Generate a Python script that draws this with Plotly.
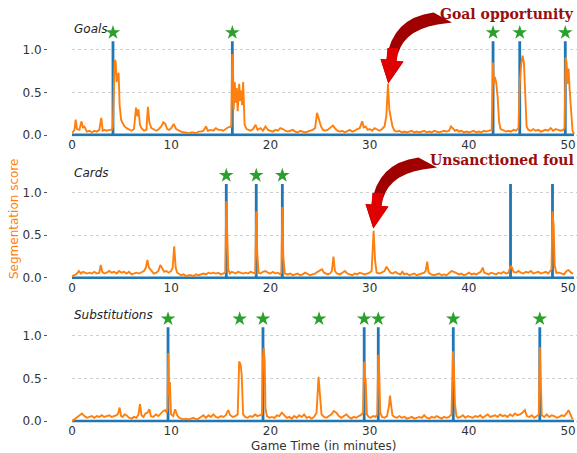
import plotly.graph_objects as go

# ---------------- data ----------------
PANELS = ["Goals", "Cards", "Substitutions"]

GOALS_EVENTS = [4.13, 16.16, 42.44, 45.13, 49.72]
GOALS_STARS = [4.13, 16.16, 42.44, 45.13, 49.72]
CARDS_EVENTS = [15.55, 18.57, 21.2, 44.2, 48.43]
CARDS_STARS = [15.55, 18.57, 21.2]
SUBS_EVENTS = [9.68, 19.25, 29.45, 30.87, 38.43, 47.15]
SUBS_STARS = [9.68, 16.9, 19.25, 24.9, 29.45, 30.87, 38.43, 47.15]

GOALS_SCORE = [
    (0, 0.02), (0.25, 0.06), (0.37, 0.18), (0.5, 0.07), (0.75, 0.06), (0.95, 0.16), (1.1, 0.09), (1.25, 0.10),
    (1.5, 0.04), (1.75, 0.05), (2.0, 0.03), (2.25, 0.05), (2.5, 0.04), (2.75, 0.06), (2.95, 0.20), (3.1, 0.05),
    (3.25, 0.06), (3.5, 0.05), (3.75, 0.06), (4.0, 0.06), (4.12, 0.10), (4.2, 0.55), (4.3, 0.88), (4.4, 0.86),
    (4.5, 0.62), (4.6, 0.70), (4.7, 0.73), (4.8, 0.35), (4.95, 0.18), (5.1, 0.14), (5.3, 0.10), (5.5, 0.08),
    (5.75, 0.06), (6.0, 0.05), (6.25, 0.07), (6.45, 0.32), (6.6, 0.22), (6.7, 0.30), (6.85, 0.12), (7.0, 0.08),
    (7.25, 0.05), (7.5, 0.06), (7.65, 0.33), (7.8, 0.15), (8.0, 0.08), (8.25, 0.06), (8.5, 0.05), (8.75, 0.07),
    (9.0, 0.10), (9.2, 0.15), (9.4, 0.13), (9.6, 0.07), (9.8, 0.06), (10.0, 0.08), (10.25, 0.13), (10.5, 0.07),
    (10.75, 0.05), (11.0, 0.04), (11.25, 0.03), (11.5, 0.03), (11.75, 0.02), (12.0, 0.03), (12.25, 0.03),
    (12.5, 0.02), (12.75, 0.04), (13.0, 0.04), (13.25, 0.05), (13.5, 0.10), (13.7, 0.05), (14.0, 0.06),
    (14.25, 0.05), (14.5, 0.08), (14.75, 0.06), (15.0, 0.06), (15.25, 0.05), (15.5, 0.07), (15.75, 0.09),
    (16.05, 0.10), (16.15, 0.95), (16.22, 0.82), (16.3, 0.30), (16.4, 0.62), (16.5, 0.38), (16.6, 0.55),
    (16.7, 0.28), (16.85, 0.60), (16.95, 0.40), (17.05, 0.52), (17.15, 0.35), (17.25, 0.62), (17.4, 0.12),
    (17.6, 0.07), (17.8, 0.06), (18.0, 0.05), (18.25, 0.07), (18.5, 0.12), (18.7, 0.06), (19.0, 0.08),
    (19.25, 0.05), (19.5, 0.10), (19.75, 0.06), (20.0, 0.05), (20.25, 0.04), (20.5, 0.06), (20.75, 0.05),
    (21.0, 0.08), (21.25, 0.07), (21.5, 0.05), (21.75, 0.04), (22.0, 0.05), (22.25, 0.06), (22.5, 0.04),
    (22.75, 0.03), (23.0, 0.05), (23.25, 0.04), (23.5, 0.03), (23.75, 0.04), (24.0, 0.05), (24.25, 0.06),
    (24.5, 0.08), (24.7, 0.26), (24.9, 0.18), (25.1, 0.10), (25.3, 0.06), (25.5, 0.05), (25.75, 0.06),
    (26.0, 0.08), (26.3, 0.11), (26.5, 0.08), (26.75, 0.05), (27.0, 0.04), (27.25, 0.05), (27.5, 0.03),
    (27.75, 0.05), (28.0, 0.06), (28.25, 0.04), (28.5, 0.05), (28.75, 0.07), (29.0, 0.08), (29.25, 0.16),
    (29.4, 0.09), (29.6, 0.10), (29.8, 0.06), (30.0, 0.07), (30.25, 0.05), (30.5, 0.08), (30.75, 0.06),
    (31.0, 0.05), (31.25, 0.07), (31.5, 0.10), (31.68, 0.22), (31.85, 0.60), (31.98, 0.30), (32.1, 0.22),
    (32.3, 0.10), (32.5, 0.05), (32.75, 0.04), (33.0, 0.05), (33.25, 0.03), (33.5, 0.04), (33.75, 0.03),
    (34.0, 0.04), (34.25, 0.05), (34.5, 0.03), (34.75, 0.04), (35.0, 0.03), (35.25, 0.04), (35.5, 0.05),
    (35.75, 0.03), (36.0, 0.04), (36.25, 0.03), (36.5, 0.05), (36.75, 0.04), (37.0, 0.03), (37.25, 0.04),
    (37.5, 0.05), (37.75, 0.04), (38.0, 0.05), (38.2, 0.10), (38.4, 0.08), (38.6, 0.05), (38.8, 0.06),
    (39.0, 0.04), (39.25, 0.05), (39.5, 0.03), (39.75, 0.04), (40.0, 0.03), (40.25, 0.04), (40.5, 0.05),
    (40.75, 0.03), (41.0, 0.04), (41.25, 0.03), (41.5, 0.05), (41.75, 0.04), (42.0, 0.05), (42.3, 0.06),
    (42.44, 0.85), (42.52, 0.60), (42.62, 0.68), (42.75, 0.62), (42.9, 0.45), (43.05, 0.15), (43.2, 0.07),
    (43.5, 0.05), (43.75, 0.04), (44.0, 0.05), (44.25, 0.04), (44.5, 0.06), (44.75, 0.05), (45.0, 0.08),
    (45.13, 0.62), (45.3, 0.85), (45.42, 0.93), (45.55, 0.85), (45.68, 0.35), (45.82, 0.10), (46.0, 0.06),
    (46.25, 0.05), (46.5, 0.07), (46.75, 0.05), (47.0, 0.06), (47.25, 0.04), (47.5, 0.05), (47.75, 0.06),
    (48.0, 0.05), (48.25, 0.08), (48.5, 0.05), (48.75, 0.07), (49.0, 0.06), (49.25, 0.05), (49.5, 0.06),
    (49.65, 0.08), (49.75, 0.91), (49.85, 0.85), (49.95, 0.60), (50.05, 0.78), (50.15, 0.55), (50.3, 0.30),
    (50.45, 0.05), (50.6, 0.01),
]

CARDS_SCORE = [
    (0, 0.02), (0.25, 0.03), (0.5, 0.05), (0.7, 0.08), (0.9, 0.05), (1.1, 0.07), (1.3, 0.06), (1.5, 0.05),
    (1.75, 0.06), (2.0, 0.05), (2.25, 0.07), (2.5, 0.05), (2.75, 0.06), (2.9, 0.15), (3.05, 0.07), (3.25, 0.05),
    (3.5, 0.06), (3.75, 0.08), (4.0, 0.06), (4.25, 0.07), (4.5, 0.05), (4.75, 0.08), (5.0, 0.06), (5.25, 0.07),
    (5.5, 0.05), (5.75, 0.07), (6.0, 0.04), (6.25, 0.05), (6.5, 0.06), (6.75, 0.05), (7.0, 0.07), (7.25, 0.08),
    (7.45, 0.12), (7.6, 0.21), (7.75, 0.12), (8.0, 0.08), (8.25, 0.05), (8.5, 0.06), (8.7, 0.08), (8.9, 0.15),
    (9.1, 0.10), (9.3, 0.07), (9.5, 0.08), (9.75, 0.06), (10.0, 0.08), (10.15, 0.12), (10.3, 0.37),
    (10.45, 0.12), (10.6, 0.06), (10.8, 0.04), (11.0, 0.03), (11.25, 0.04), (11.5, 0.02), (11.75, 0.03),
    (12.0, 0.03), (12.25, 0.02), (12.5, 0.04), (12.75, 0.03), (13.0, 0.04), (13.25, 0.05), (13.5, 0.04),
    (13.75, 0.06), (14.0, 0.05), (14.25, 0.06), (14.5, 0.05), (14.75, 0.06), (15.0, 0.04), (15.25, 0.05),
    (15.45, 0.06), (15.55, 0.90), (15.65, 0.55), (15.75, 0.10), (15.9, 0.05), (16.1, 0.07), (16.3, 0.06),
    (16.5, 0.05), (16.75, 0.07), (17.0, 0.06), (17.25, 0.05), (17.5, 0.06), (17.75, 0.05), (18.0, 0.07),
    (18.25, 0.06), (18.47, 0.05), (18.57, 0.78), (18.67, 0.30), (18.8, 0.06), (19.0, 0.05), (19.25, 0.07),
    (19.5, 0.08), (19.75, 0.06), (20.0, 0.05), (20.25, 0.07), (20.5, 0.05), (20.75, 0.06), (21.0, 0.04),
    (21.1, 0.06), (21.2, 0.83), (21.3, 0.25), (21.45, 0.05), (21.75, 0.04), (22.0, 0.05), (22.25, 0.03),
    (22.5, 0.04), (22.75, 0.05), (23.0, 0.03), (23.25, 0.04), (23.5, 0.06), (23.75, 0.04), (24.0, 0.03),
    (24.25, 0.04), (24.5, 0.05), (24.75, 0.07), (25.0, 0.09), (25.2, 0.10), (25.4, 0.06), (25.6, 0.05),
    (25.8, 0.04), (26.0, 0.05), (26.2, 0.08), (26.35, 0.25), (26.5, 0.08), (26.7, 0.05), (27.0, 0.04),
    (27.25, 0.06), (27.5, 0.08), (27.75, 0.05), (28.0, 0.04), (28.25, 0.03), (28.5, 0.05), (28.75, 0.04),
    (29.0, 0.06), (29.25, 0.05), (29.5, 0.04), (29.75, 0.05), (30.0, 0.06), (30.2, 0.08), (30.4, 0.55),
    (30.55, 0.20), (30.7, 0.06), (31.0, 0.05), (31.25, 0.07), (31.5, 0.08), (31.7, 0.13), (31.9, 0.10),
    (32.1, 0.06), (32.35, 0.05), (32.6, 0.07), (32.85, 0.05), (33.1, 0.04), (33.3, 0.07), (33.5, 0.04),
    (33.75, 0.05), (34.0, 0.03), (34.25, 0.04), (34.5, 0.05), (34.75, 0.03), (35.0, 0.04), (35.25, 0.05),
    (35.5, 0.06), (35.65, 0.08), (35.8, 0.19), (35.95, 0.06), (36.2, 0.04), (36.5, 0.03), (36.75, 0.04),
    (37.0, 0.05), (37.25, 0.03), (37.5, 0.04), (37.75, 0.03), (38.0, 0.05), (38.25, 0.08), (38.5, 0.07),
    (38.75, 0.05), (39.0, 0.04), (39.25, 0.05), (39.5, 0.03), (39.75, 0.04), (40.0, 0.06), (40.25, 0.04),
    (40.5, 0.05), (40.75, 0.04), (41.0, 0.06), (41.2, 0.07), (41.4, 0.12), (41.55, 0.06), (41.8, 0.05),
    (42.0, 0.04), (42.25, 0.06), (42.5, 0.05), (42.75, 0.04), (43.0, 0.06), (43.25, 0.05), (43.5, 0.07),
    (43.75, 0.05), (44.0, 0.06), (44.2, 0.14), (44.35, 0.12), (44.5, 0.07), (44.75, 0.06), (45.0, 0.08),
    (45.25, 0.06), (45.5, 0.05), (45.75, 0.07), (46.0, 0.06), (46.25, 0.08), (46.5, 0.05), (46.75, 0.06),
    (47.0, 0.07), (47.25, 0.05), (47.5, 0.06), (47.75, 0.07), (48.0, 0.05), (48.33, 0.10), (48.43, 0.78),
    (48.55, 0.60), (48.65, 0.15), (48.8, 0.06), (49.1, 0.06), (49.35, 0.05), (49.6, 0.04), (49.85, 0.08),
    (50.05, 0.09), (50.3, 0.06), (50.5, 0.05),
]

SUBS_SCORE = [
    (0, 0.0), (0.25, 0.02), (0.5, 0.05), (0.75, 0.07), (1.0, 0.09), (1.25, 0.06), (1.5, 0.04), (1.75, 0.05),
    (2.0, 0.06), (2.25, 0.04), (2.5, 0.06), (2.75, 0.05), (3.0, 0.07), (3.25, 0.05), (3.5, 0.06), (3.75, 0.07),
    (4.0, 0.05), (4.25, 0.06), (4.5, 0.07), (4.65, 0.09), (4.8, 0.16), (4.95, 0.06), (5.1, 0.05), (5.3, 0.08),
    (5.5, 0.07), (5.75, 0.04), (6.0, 0.03), (6.25, 0.05), (6.5, 0.04), (6.7, 0.08), (6.85, 0.20), (7.0, 0.07),
    (7.2, 0.05), (7.4, 0.09), (7.6, 0.10), (7.8, 0.14), (7.95, 0.06), (8.2, 0.05), (8.45, 0.08), (8.7, 0.06),
    (8.95, 0.09), (9.2, 0.12), (9.4, 0.13), (9.55, 0.10), (9.63, 0.15), (9.7, 0.80), (9.78, 0.30), (9.86, 0.46),
    (9.98, 0.08), (10.2, 0.06), (10.4, 0.14), (10.6, 0.07), (10.8, 0.04), (11.0, 0.03), (11.25, 0.02),
    (11.5, 0.03), (11.75, 0.02), (12.0, 0.03), (12.25, 0.04), (12.5, 0.02), (12.75, 0.03), (13.0, 0.05),
    (13.25, 0.07), (13.5, 0.04), (13.75, 0.07), (14.0, 0.05), (14.25, 0.08), (14.5, 0.05), (14.75, 0.04),
    (15.0, 0.06), (15.25, 0.05), (15.5, 0.07), (15.75, 0.13), (15.95, 0.07), (16.2, 0.05), (16.45, 0.06),
    (16.7, 0.08), (16.85, 0.70), (17.0, 0.66), (17.1, 0.55), (17.25, 0.08), (17.45, 0.05), (17.7, 0.04),
    (17.95, 0.06), (18.2, 0.05), (18.45, 0.08), (18.7, 0.06), (18.95, 0.07), (19.15, 0.08), (19.25, 0.75),
    (19.33, 0.86), (19.42, 0.70), (19.5, 0.15), (19.65, 0.06), (19.9, 0.04), (20.15, 0.05), (20.4, 0.04),
    (20.65, 0.07), (20.9, 0.06), (21.15, 0.10), (21.4, 0.07), (21.65, 0.04), (21.9, 0.05), (22.15, 0.03),
    (22.4, 0.06), (22.65, 0.04), (22.9, 0.07), (23.15, 0.05), (23.4, 0.08), (23.65, 0.04), (23.9, 0.05),
    (24.15, 0.03), (24.4, 0.05), (24.65, 0.10), (24.85, 0.52), (25.0, 0.30), (25.15, 0.08), (25.4, 0.05),
    (25.65, 0.04), (25.9, 0.06), (26.15, 0.08), (26.4, 0.12), (26.65, 0.10), (26.9, 0.06), (27.15, 0.04),
    (27.4, 0.06), (27.65, 0.08), (27.9, 0.05), (28.15, 0.03), (28.4, 0.05), (28.65, 0.04), (28.9, 0.06),
    (29.1, 0.07), (29.33, 0.10), (29.45, 0.70), (29.53, 0.45), (29.6, 0.50), (29.72, 0.08), (29.9, 0.05),
    (30.1, 0.04), (30.35, 0.06), (30.6, 0.05), (30.77, 0.08), (30.87, 0.78), (30.97, 0.55), (31.07, 0.10),
    (31.25, 0.05), (31.5, 0.04), (31.75, 0.06), (31.95, 0.18), (32.05, 0.30), (32.15, 0.20), (32.3, 0.07),
    (32.5, 0.05), (32.75, 0.04), (33.0, 0.06), (33.25, 0.04), (33.5, 0.05), (33.75, 0.03), (34.0, 0.04),
    (34.25, 0.05), (34.5, 0.03), (34.75, 0.04), (35.0, 0.05), (35.25, 0.04), (35.5, 0.07), (35.75, 0.04),
    (36.0, 0.03), (36.25, 0.05), (36.5, 0.04), (36.75, 0.06), (37.0, 0.04), (37.25, 0.03), (37.5, 0.05),
    (37.75, 0.04), (38.0, 0.05), (38.25, 0.08), (38.4, 0.82), (38.5, 0.60), (38.6, 0.20), (38.75, 0.06),
    (38.9, 0.04), (39.15, 0.05), (39.4, 0.07), (39.65, 0.04), (39.9, 0.06), (40.15, 0.05), (40.4, 0.04),
    (40.65, 0.06), (40.9, 0.05), (41.15, 0.07), (41.4, 0.04), (41.65, 0.06), (41.9, 0.08), (42.15, 0.05),
    (42.4, 0.06), (42.65, 0.07), (42.9, 0.05), (43.15, 0.08), (43.4, 0.06), (43.65, 0.07), (43.9, 0.05),
    (44.15, 0.08), (44.4, 0.06), (44.65, 0.09), (44.9, 0.07), (45.15, 0.08), (45.4, 0.10), (45.65, 0.13),
    (45.85, 0.06), (46.1, 0.05), (46.35, 0.07), (46.6, 0.04), (46.85, 0.06), (47.05, 0.08), (47.15, 0.87),
    (47.25, 0.40), (47.35, 0.07), (47.6, 0.05), (47.85, 0.08), (48.1, 0.05), (48.35, 0.07), (48.6, 0.06),
    (48.85, 0.04), (49.1, 0.05), (49.35, 0.07), (49.6, 0.06), (49.85, 0.09), (50.05, 0.13), (50.25, 0.08),
    (50.45, 0.02),
]

EVENT_HEIGHT = 1.1
STAR_HEIGHT = 1.2
GAME_END = 50.6
X_TICKS = [0, 10, 20, 30, 40, 50]
Y_TICKS = [0.0, 0.5, 1.0]
ANNOTATIONS = [("Goal opportunity", 0), ("Unsanctioned foul", 1)]

# ---------------- layout helpers ----------------
W, H = 577, 453
ML = 47  # left margin (px), where the y-axis ticks sit
PLOT_W = W - ML
X0_PX = 72  # pixel position of minute 0
UNIT_PX = 85.3
ZERO_PX = [135.0, 277.8, 421.2]
Y_LO, Y_HI = -0.015, 1.3
X_MAX = 50.9


def px(xp):
    return (xp - ML) / PLOT_W


def py(yp):
    return 1 - yp / H


BLUE = "#1f77b4"
ORANGE = "#ff7f0e"
GREEN = "#2ca02c"
TXT = "#333333"

events = [GOALS_EVENTS, CARDS_EVENTS, SUBS_EVENTS]
stars = [GOALS_STARS, CARDS_STARS, SUBS_STARS]
scores = [GOALS_SCORE, CARDS_SCORE, SUBS_SCORE]

fig = go.Figure()
layout = {}
for i in range(3):
    sfx = "" if i == 0 else str(i + 1)
    xa, ya = "x" + sfx, "y" + sfx
    # ground truth: baseline with vertical spikes at each event
    bx, by = [0], [0]
    for t in events[i]:
        bx += [t, t, t]
        by += [0, EVENT_HEIGHT, 0]
    bx.append(GAME_END)
    by.append(0)
    fig.add_trace(go.Scatter(x=bx, y=by, mode="lines", line=dict(color=BLUE, width=2.8),
                             xaxis=xa, yaxis=ya, hoverinfo="skip", cliponaxis=False))
    sx = [p[0] for p in scores[i]]
    sy = [p[1] for p in scores[i]]
    fig.add_trace(go.Scatter(x=sx, y=sy, mode="lines", line=dict(color=ORANGE, width=1.9),
                             xaxis=xa, yaxis=ya, cliponaxis=False))
    fig.add_trace(go.Scatter(x=stars[i], y=[STAR_HEIGHT] * len(stars[i]), mode="markers",
                             marker=dict(symbol="star", size=11, color=GREEN, line=dict(width=0)),
                             xaxis=xa, yaxis=ya, cliponaxis=False))

    z = ZERO_PX[i]
    top = z - Y_HI * UNIT_PX
    bot = z - Y_LO * UNIT_PX
    layout["xaxis" + sfx] = dict(
        domain=[px(X0_PX), 1], range=[0, X_MAX], anchor=ya, tickvals=X_TICKS,
        showgrid=False, zeroline=False, showline=False, ticks="", automargin=False,
        tickfont=dict(family="DejaVu Sans", size=12, color=TXT),
    )
    layout["yaxis" + sfx] = dict(
        domain=[py(bot), py(top)], range=[Y_LO, Y_HI], anchor="free", position=0,
        tickvals=Y_TICKS, ticktext=["%.1f" % v for v in Y_TICKS], automargin=False,
        showgrid=True, gridcolor="#cfcfcf", griddash="dot", gridwidth=1,
        zeroline=False, showline=False, ticks="outside", ticklen=3, tickcolor="#555555",
        tickfont=dict(family="DejaVu Sans", size=12, color=TXT),
    )

annotations = []
title_y = [29, 172.5, 315]
for i, name in enumerate(PANELS):
    annotations.append(dict(text=name, xref="paper", yref="paper", x=px(X0_PX), y=py(title_y[i]),
                            xanchor="left", yanchor="middle", showarrow=False,
                            font=dict(family="DejaVu Sans", size=12, color="#222222", style="italic")))
annotations.append(dict(text="Game Time (in minutes)", xref="paper", yref="paper", x=px(323), y=py(446),
                        xanchor="center", yanchor="middle", showarrow=False,
                        font=dict(family="DejaVu Sans", size=12, color=TXT)))
annotations.append(dict(text="Segmentation score", xref="paper", yref="paper", x=px(14), y=py(219),
                        xanchor="center", yanchor="middle", showarrow=False, textangle=-90,
                        font=dict(family="DejaVu Sans", size=12, color=ORANGE)))

# curved callout arrows
shapes = []
text_y = [14, 160]
arrow_dx = [0, -15]
arrow_dy = [0, 145]
for label, k in ANNOTATIONS:
    annotations.append(dict(text="<b>%s</b>" % label, xref="paper", yref="paper", x=px(576), y=py(text_y[k]),
                            xanchor="right", yanchor="middle", showarrow=False,
                            font=dict(family="DejaVu Serif", size=14, color="#9a0e0e")))
    dx, dy = arrow_dx[k], arrow_dy[k]

    def P(a, b):
        return "%.5f,%.5f" % (px(a + dx), py(b + dy))

    body = ("M " + P(433.5, 12.5) + " Q " + P(392, 18) + " " + P(386.5, 59.5) +
            " L " + P(380.5, 59) + " L " + P(388.3, 83.5) + " L " + P(403.5, 61.5) +
            " L " + P(396.5, 61) + " Q " + P(400, 31) + " " + P(437.5, 24.5) +
            " L " + P(452, 22.5) + " Z")
    shapes.append(dict(type="path", xref="paper", yref="paper", path=body,
                       fillcolor="#a00000", line=dict(width=0), layer="above"))
    neck = ("M " + P(387.3, 48) + " Q " + P(387, 54) + " " + P(386.5, 59.5) +
            " L " + P(380.5, 59) + " L " + P(388.3, 83.5) + " L " + P(403.5, 61.5) +
            " L " + P(396.5, 61) + " Q " + P(397, 54) + " " + P(398.5, 48) + " Z")
    shapes.append(dict(type="path", xref="paper", yref="paper", path=neck,
                       fillcolor="#e00000", line=dict(width=0), layer="above"))

fig.update_layout(
    width=W, height=H, margin=dict(l=ML, r=0, t=0, b=0, autoexpand=False),
    paper_bgcolor="white", plot_bgcolor="white", showlegend=False,
    annotations=annotations, shapes=shapes, **layout,
)

fig.write_html("out.html", config={"displayModeBar": False},
               post_script="document.body.style.margin='0';document.body.style.padding='0';")
